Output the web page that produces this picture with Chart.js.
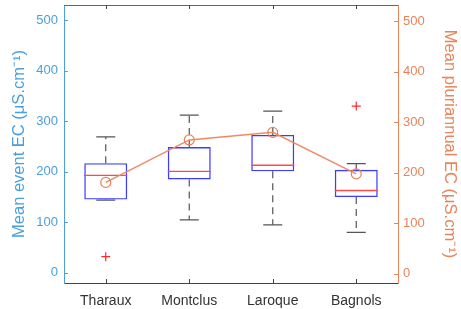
<!DOCTYPE html>
<html lang="en">
<head>
    <meta charset="UTF-8">
    <title>Mean EC boxplot</title>
    <script src="https://cdn.jsdelivr.net/npm/chart.js@4.4.0/dist/chart.umd.min.js"></script>
    <style>
        body { margin: 0; padding: 0; background: #fff; }
        #wrap { width: 461px; height: 309px; }
    </style>
</head>
<body>
    <div id="wrap"><canvas id="myChart"></canvas></div>
    <script>
        // data
        const sites = ['Tharaux', 'Montclus', 'Laroque', 'Bagnols'];
        const whiskerLow = [144, 105, 95, 80];
        const q1 = [145, 185, 201, 150];
        const median = [193, 201, 213, 163];
        const q3 = [217, 249, 273, 204];
        const whiskerHigh = [269, 312, 320, 216];
        const outliers = [32, null, null, 330];
        const meanPluriannual = [181, 265, 280, 198];
        const yTicks = [0, 100, 200, 300, 400, 500];

        const blueAxis = '#4a9fdc';
        const orangeAxis = '#e8845a';
        const font = 'Liberation Sans, Arial, sans-serif';

        // whiskers (dashed) + inside ticks + top frame, like matlab
        const boxExtras = {
            id: 'boxExtras',
            beforeDatasetsDraw(chart) {
                const ctx = chart.ctx;
                const x = chart.scales.x, y = chart.scales.y;
                ctx.save();
                ctx.strokeStyle = '#555';
                ctx.lineWidth = 1.2;
                ctx.setLineDash([7, 5]);
                sites.forEach((s, i) => {
                    const px = x.getPixelForValue(i);
                    ctx.beginPath();
                    ctx.moveTo(px, y.getPixelForValue(q3[i]));
                    ctx.lineTo(px, y.getPixelForValue(whiskerHigh[i]));
                    ctx.moveTo(px, y.getPixelForValue(q1[i]));
                    ctx.lineTo(px, y.getPixelForValue(whiskerLow[i]));
                    ctx.stroke();
                });
                ctx.restore();
            },
            afterDraw(chart) {
                const ctx = chart.ctx;
                const a = chart.chartArea;
                const x = chart.scales.x, y = chart.scales.y, y2 = chart.scales.y2;
                ctx.save();
                ctx.lineWidth = 1;
                // top frame
                ctx.strokeStyle = '#666';
                ctx.beginPath();
                ctx.moveTo(a.left, a.top + 0.5);
                ctx.lineTo(a.right, a.top + 0.5);
                ctx.stroke();
                // x ticks, top and bottom
                ctx.strokeStyle = '#444';
                ctx.beginPath();
                sites.forEach((s, i) => {
                    const px = Math.round(x.getPixelForValue(i)) + 0.5;
                    ctx.moveTo(px, a.bottom); ctx.lineTo(px, a.bottom - 4);
                    ctx.moveTo(px, a.top); ctx.lineTo(px, a.top + 4);
                });
                ctx.stroke();
                // y ticks
                ctx.strokeStyle = blueAxis;
                ctx.beginPath();
                yTicks.forEach(v => {
                    const py = Math.round(y.getPixelForValue(v)) + 0.5;
                    ctx.moveTo(a.left, py); ctx.lineTo(a.left + 4, py);
                });
                ctx.stroke();
                ctx.strokeStyle = orangeAxis;
                ctx.beginPath();
                yTicks.forEach(v => {
                    const py = Math.round(y2.getPixelForValue(v)) + 0.5;
                    ctx.moveTo(a.right, py); ctx.lineTo(a.right - 4, py);
                });
                ctx.stroke();
                ctx.restore();
            }
        };

        const setTicks = scale => {
            scale.ticks = yTicks.map(v => ({ value: v }));
        };

        const ctx = document.getElementById('myChart').getContext('2d');
        const myChart = new Chart(ctx, {
            data: {
                labels: sites,
                datasets: [
                    {
                        type: 'line', label: 'mean', yAxisID: 'y2',
                        data: meanPluriannual,
                        borderColor: '#f08a62', borderWidth: 1.5,
                        pointStyle: 'circle', pointRadius: 5,
                        pointBorderColor: '#e8845a', pointBackgroundColor: 'rgba(0,0,0,0)',
                        pointBorderWidth: 1.2, tension: 0, order: 0
                    },
                    {
                        type: 'line', label: 'outliers', yAxisID: 'y',
                        data: outliers, showLine: false,
                        pointStyle: 'cross', pointRadius: 4.5,
                        pointBorderColor: '#ff2a2a', pointBorderWidth: 1.2, order: 1
                    },
                    {
                        type: 'line', label: 'median', yAxisID: 'y',
                        data: median, showLine: false,
                        pointStyle: 'line', pointRadius: 21.5,
                        pointBorderColor: '#ff4a4a', pointBorderWidth: 1.3, order: 2
                    },
                    {
                        type: 'line', label: 'capHigh', yAxisID: 'y',
                        data: whiskerHigh, showLine: false,
                        pointStyle: 'line', pointRadius: 9.5,
                        pointBorderColor: '#555', pointBorderWidth: 1.3, order: 3
                    },
                    {
                        type: 'line', label: 'capLow', yAxisID: 'y',
                        data: whiskerLow, showLine: false,
                        pointStyle: 'line', pointRadius: 9.5,
                        pointBorderColor: '#555', pointBorderWidth: 1.3, order: 4
                    },
                    {
                        type: 'bar', label: 'box', yAxisID: 'y',
                        data: q1.map((v, i) => [v, q3[i]]),
                        backgroundColor: 'rgba(0,0,0,0)',
                        borderColor: '#3c3cff', borderWidth: 1.4,
                        borderSkipped: false,
                        categoryPercentage: 1, barPercentage: 0.515, order: 5
                    }
                ]
            },
            options: {
                responsive: true,
                maintainAspectRatio: false,
                animation: false,
                layout: { autoPadding: false, padding: { top: 5, left: 0, right: 0, bottom: 0 } },
                plugins: { legend: { display: false }, tooltip: { enabled: false } },
                scales: {
                    x: {
                        type: 'category', offset: true,
                        grid: { display: false, drawTicks: false },
                        border: { color: '#444' },
                        ticks: { color: '#333', font: { family: font, size: 14 }, padding: 10 },
                        afterFit: s => { s.height = 26; s.paddingLeft = 0; s.paddingRight = 0; }
                    },
                    y: {
                        position: 'left', min: -20, max: 530,
                        grid: { display: false, drawTicks: false },
                        border: { color: blueAxis },
                        ticks: { color: blueAxis, font: { family: font, size: 13 }, padding: 6 },
                        afterBuildTicks: setTicks,
                        title: {
                            display: true, text: 'Mean event EC (\u03bcS.cm\u207b\u00b9)',
                            color: blueAxis, font: { family: font, size: 16.5 }, padding: { top: 9.5 }
                        },
                        afterFit: s => { s.width = 64; s.paddingTop = 0; s.paddingBottom = 0; }
                    },
                    y2: {
                        position: 'right', min: -18, max: 532,
                        grid: { display: false, drawTicks: false },
                        border: { color: orangeAxis },
                        ticks: { color: orangeAxis, font: { family: font, size: 13 }, padding: 5 },
                        afterBuildTicks: setTicks,
                        title: {
                            display: true, text: 'Mean pluriannual EC (\u03bcS.cm\u207b\u00b9)',
                            color: orangeAxis, font: { family: font, size: 16.5 }, padding: { top: 2 }
                        },
                        afterFit: s => { s.width = 63; s.paddingTop = 0; s.paddingBottom = 0; }
                    }
                }
            },
            plugins: [boxExtras]
        });
    </script>
</body>
</html>
